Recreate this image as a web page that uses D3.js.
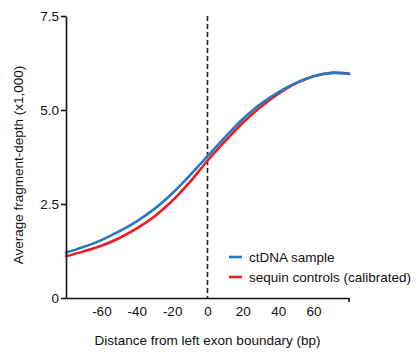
<!DOCTYPE html>
<html>
<head>
<meta charset="utf-8">
<script src="https://cdn.jsdelivr.net/npm/d3@7"></script>
<style>
	body { margin: 0; background: #fff; }
	text { font-family: "Liberation Sans", Arial, Helvetica, sans-serif; fill: #111; }
</style>
</head>
<body>
<div id="chart"></div>
<script>
// distance from left exon boundary (bp)
let positions = [-80, -70, -60, -50, -40, -30, -20, -10, 0, 10, 20, 30, 40, 50, 60, 70, 80];
// average fragment depth (x1,000)
let ctdna_values  = [1.21, 1.36, 1.54, 1.77, 2.04, 2.37, 2.78, 3.26, 3.77, 4.28, 4.76, 5.16, 5.47, 5.72, 5.90, 5.98, 5.96];
let sequin_values = [1.11, 1.24, 1.39, 1.59, 1.85, 2.17, 2.58, 3.08, 3.65, 4.17, 4.66, 5.08, 5.43, 5.71, 5.90, 5.99, 5.97];
let x_ticks = [-60, -40, -20, 0, 20, 40, 60];
let y_ticks = [0, 2.5, 5, 7.5];
let series_names = ['ctDNA sample', 'sequin controls (calibrated)'];

let full_width  = 417,
	full_height = 354,
	margins     = {top: 16, right: 68, bottom: 56, left: 66},
	width       = full_width - margins.left - margins.right,
	height      = full_height - margins.top - margins.bottom;

let x = d3.scaleLinear()
	.domain([-80, 80])
	.range([0, 283]);

let y = d3.scaleLinear()
	.domain([0, 7.5])
	.range([height, 0]);

let series = [
	{name: series_names[0], color: '#2479c2', values: ctdna_values},
	{name: series_names[1], color: '#ec1c24', values: sequin_values}
];

let line = d3.line()
	.x(function(d, i) { return x(positions[i]); })
	.y(function(d) { return y(d); })
	.curve(d3.curveCatmullRom.alpha(0.5));

let svg = d3.select('#chart')
	.append('svg')
	.attr('width', full_width)
	.attr('height', full_height);

let g = svg.append('g')
	.attr('transform', 'translate(' + margins.left + ',' + margins.top + ')');

// exon boundary
g.append('line')
	.attr('x1', x(0)).attr('x2', x(0))
	.attr('y1', 0).attr('y2', height)
	.attr('stroke', '#222')
	.attr('stroke-width', 1.6)
	.attr('stroke-dasharray', '5,3');

// sequin first so ctDNA sits on top
series.slice().reverse().forEach(function(s) {
	g.append('path')
		.datum(s.values)
		.attr('fill', 'none')
		.attr('stroke', s.color)
		.attr('stroke-width', 2.6)
		.attr('stroke-linejoin', 'round')
		.attr('stroke-linecap', 'round')
		.attr('d', line);
});

let yAxis = d3.axisLeft(y)
	.tickValues(y_ticks)
	.tickSize(5)
	.tickSizeOuter(0)
	.tickPadding(2)
	.tickFormat(function(d) { return d === 0 ? '0' : d3.format('.1f')(d); });

let xAxis = d3.axisBottom(x)
	.tickValues(x_ticks)
	.tickSize(0)
	.tickSizeOuter(0)
	.tickPadding(8)
	.tickFormat(function(d) { return d3.format('d')(d).replace('−', '-'); });

let gx = g.append('g')
	.attr('class', 'axis axis--x')
	.attr('transform', 'translate(0,' + height + ')')
	.call(xAxis);

gx.select('.domain').attr('stroke', '#111').attr('stroke-width', 1.6);
gx.selectAll('text').attr('font-size', '13.5px').attr('fill', '#111');

// end tick at the right of the x axis
gx.append('line')
	.attr('x1', x(80)).attr('x2', x(80))
	.attr('y1', 0).attr('y2', 4)
	.attr('stroke', '#111')
	.attr('stroke-width', 1.6);

let gy = g.append('g')
	.attr('class', 'axis axis--y')
	.call(yAxis);

gy.select('.domain').attr('stroke', '#111').attr('stroke-width', 1.6);
gy.selectAll('.tick line').attr('stroke', '#111').attr('stroke-width', 1.6);
gy.selectAll('text').attr('font-size', '13.5px').attr('fill', '#111');

svg.append('text')
	.attr('x', margins.left + x(0))
	.attr('y', 345)
	.attr('text-anchor', 'middle')
	.attr('font-size', '13.5px')
	.text('Distance from left exon boundary (bp)');

svg.append('text')
	.attr('transform', 'translate(23,165) rotate(-90)')
	.attr('text-anchor', 'middle')
	.attr('font-size', '13.5px')
	.text('Average fragment-depth (x1,000)');

let legend = svg.append('g')
	.attr('transform', 'translate(229,257)');

let item = legend.selectAll('.legend-item')
	.data(series)
	.enter()
	.append('g')
	.attr('class', 'legend-item')
	.attr('transform', function(d, i) { return 'translate(0,' + (i * 20) + ')'; });

item.append('line')
	.attr('x1', 0).attr('x2', 13)
	.attr('stroke', function(d) { return d.color; })
	.attr('stroke-width', 2.6);

item.append('text')
	.attr('x', 20)
	.attr('y', 4.5)
	.attr('font-size', '13.5px')
	.text(function(d) { return d.name; });
</script>
</body>
</html>
